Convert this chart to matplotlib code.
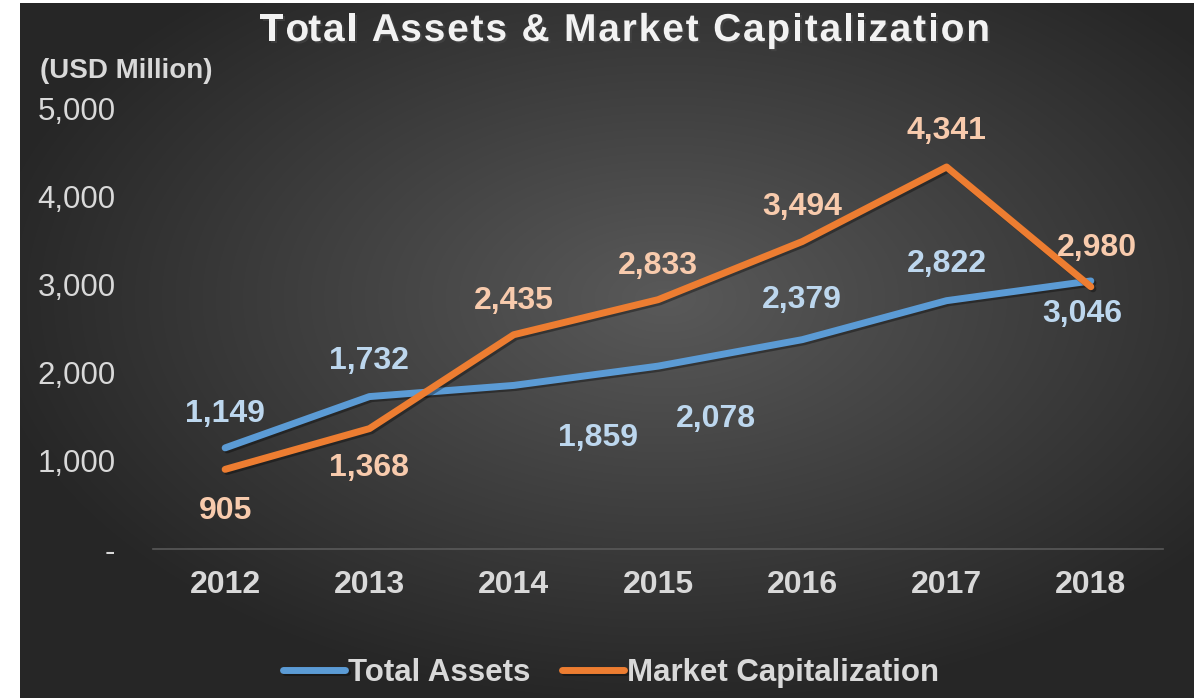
import numpy as np
import matplotlib
matplotlib.use("Agg")
import matplotlib.pyplot as plt
import matplotlib.patheffects as pe

years = ["2012", "2013", "2014", "2015", "2016", "2017", "2018"]
total_assets = [1149, 1732, 1859, 2078, 2379, 2822, 3046]
market_cap = [905, 1368, 2435, 2833, 3494, 4341, 2980]
y_ticks = [0, 1000, 2000, 3000, 4000, 5000]
title = 'Total Assets & Market Capitalization'

# label offsets in pixels (dx, dy), dy positive = up
ta_offsets = [(0, 34), (0, 36), (84, -53), (58, -53), (0, 40), (0, 37), (-9, -33)]
mc_offsets = [(0, -42), (0, -39), (0, 34), (0, 34), (0, 35), (0, 36), (6, 39)]

plt.rcParams['font.family'] = ['Liberation Sans', 'DejaVu Sans']

W, H = 1201, 698
fig = plt.figure(figsize=(W / 100, H / 100), dpi=100)
fig.patch.set_facecolor('white')

# radial gradient background
bg = fig.add_axes([20 / W, 0, 1174 / W, 695 / H])
bg.set_axis_off()
gx, gy = np.meshgrid(np.linspace(-1, 1, 600), np.linspace(-1, 1, 360))
r = np.sqrt((gx - 0.1) ** 2 + (gy + 0.15) ** 2)
shade = np.clip(0.35 - 0.17 * r, 0.15, 0.35)
bg.imshow(np.dstack([shade, shade, shade]), aspect='auto', extent=[0, 1, 0, 1], interpolation='bilinear')
bg.set_xlim(0, 1)
bg.set_ylim(0, 1)

ax = fig.add_axes([153 / W, 149 / H, 1010 / W, 440 / H])
ax.patch.set_alpha(0)
x = np.arange(len(years))

shadow = [pe.SimpleLineShadow(offset=(1.5, -1.5), shadow_color='black', alpha=0.35), pe.Normal()]
ax.plot(x, total_assets, color='#5B9BD5', lw=5, solid_capstyle='round', solid_joinstyle='round',
        label='Total Assets', path_effects=shadow)
ax.plot(x, market_cap, color='#ED7D31', lw=5, solid_capstyle='round', solid_joinstyle='round',
        label='Market Capitalization', path_effects=shadow)

for i, v in enumerate(total_assets):
    ax.annotate(f'{v:,}', (x[i], v), xytext=ta_offsets[i], textcoords='offset pixels',
                ha='center', va='center', fontsize=23, fontweight='bold', color='#BDD7EE')
for i, v in enumerate(market_cap):
    ax.annotate(f'{v:,}', (x[i], v), xytext=mc_offsets[i], textcoords='offset pixels',
                ha='center', va='center', fontsize=23, fontweight='bold', color='#F8CBAD')

ax.set_xlim(-0.5, len(years) - 0.5)
ax.set_ylim(0, 5000)
ax.set_xticks(x)
ax.set_xticklabels(years, fontsize=23, fontweight='bold', color='#D9D9D9')
ax.set_yticks(y_ticks)
ax.set_yticklabels(['-' if t == 0 else f'{t:,}' for t in y_ticks], fontsize=22.5, color='#D9D9D9')
ax.tick_params(axis='both', length=0)
ax.tick_params(axis='y', pad=27)
ax.tick_params(axis='x', pad=15)
for s in ['top', 'right', 'left']:
    ax.spines[s].set_visible(False)
ax.spines['bottom'].set_color('#595959')
ax.spines['bottom'].set_linewidth(1.2)

# letter-spaced title
renderer = fig.canvas.get_renderer()
tkw = dict(fontsize=28, fontweight='bold', color='#F2F2F2')

def text_width(s):
    t = fig.text(0, 0, s, **tkw)
    w = t.get_window_extent(renderer).width
    t.remove()
    return w

bar_w = text_width('|')
plain_w = text_width(title)
target_w = 730
sp = (target_w - plain_w) / (len(title) - 1)
x0 = 625 - target_w / 2
for i, c in enumerate(title):
    if c == ' ':
        continue
    off = (text_width(title[:i] + '|') - bar_w) if i > 0 else 0
    fig.text((x0 + off + i * sp) / W, 1 - 31 / H, c, ha='left', va='center', **tkw,
             path_effects=[pe.withSimplePatchShadow(offset=(1.5, -1.5), alpha=0.6)])

fig.text(40 / W, 1 - 71 / H, '(USD Million)', ha='left', va='center',
         fontsize=20, fontweight='bold', color='#D9D9D9')

leg = fig.legend(loc='center', bbox_to_anchor=(611 / W, 1 - 673 / H), ncol=2, frameon=False,
                 fontsize=22.5, handlelength=2.0, handletextpad=0.1, columnspacing=1.0)
for t in leg.get_texts():
    t.set_color('#D9D9D9')
    t.set_fontweight('bold')

fig.savefig('out.png', dpi=100, facecolor=fig.get_facecolor())
